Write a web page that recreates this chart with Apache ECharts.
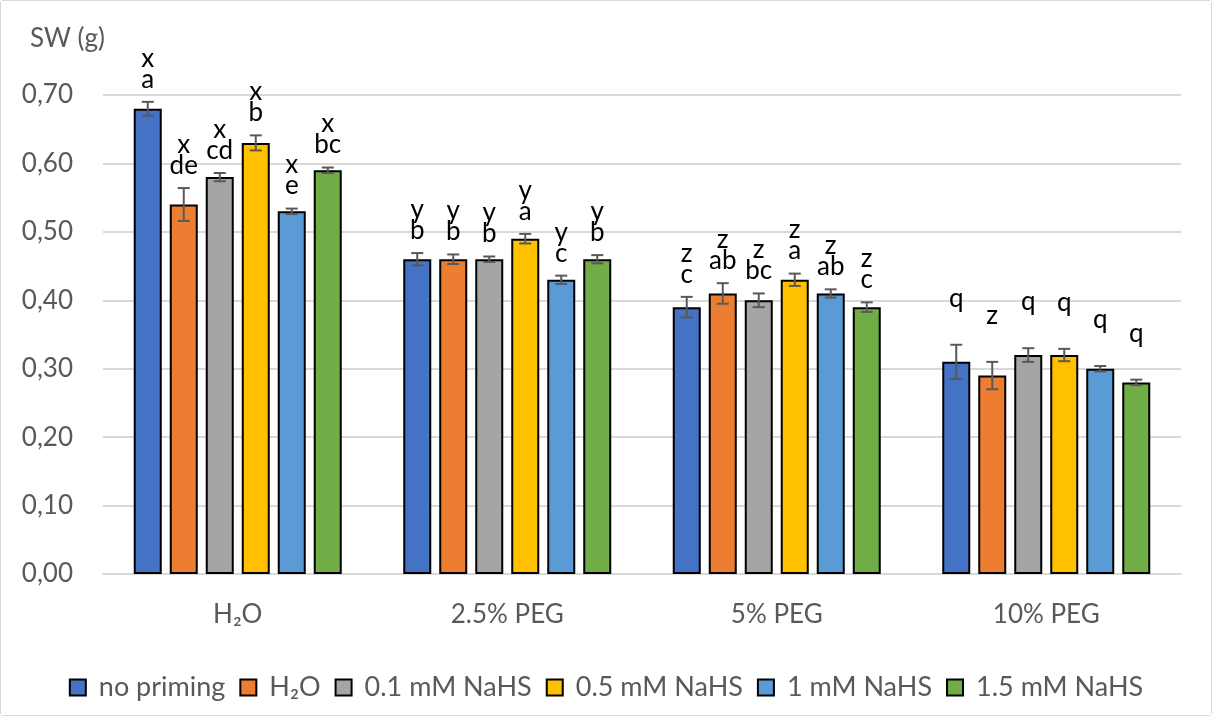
<!DOCTYPE html>
<html>
<head>
<meta charset="utf-8">
<script src="https://cdn.jsdelivr.net/npm/echarts@6/dist/echarts.min.js"></script>
<style>
  html, body { margin: 0; padding: 0; background: #fff; }
  #wrap { width: 1212px; height: 716px; box-sizing: border-box; border: 1px solid #d9d9d9; border-radius: 3px; }
  #chart { width: 100%; height: 100%; }
</style>
</head>
<body>
<div id="wrap"><div id="chart"></div></div>
<script>
// categories & series
const categories = ['H₂O', '2.5% PEG', '5% PEG', '10% PEG'];
const seriesNames = ['no priming', 'H₂O', '0.1 mM NaHS', '0.5 mM NaHS', '1 mM NaHS', '1.5 mM NaHS'];
const colors = ['#4472C4', '#ED7D31', '#A5A5A5', '#FFC000', '#5B9BD5', '#70AD47'];

// SW (g) means
const noPriming = [0.68, 0.46, 0.39, 0.31];
const h2o       = [0.54, 0.46, 0.41, 0.29];
const nahs01    = [0.58, 0.46, 0.40, 0.32];
const nahs05    = [0.63, 0.49, 0.43, 0.32];
const nahs1     = [0.53, 0.43, 0.41, 0.30];
const nahs15    = [0.59, 0.46, 0.39, 0.28];

// error bars (+/-)
const errNoPriming = [0.010, 0.009, 0.015, 0.025];
const errH2o       = [0.024, 0.007, 0.015, 0.020];
const errNahs01    = [0.006, 0.004, 0.010, 0.010];
const errNahs05    = [0.011, 0.007, 0.009, 0.009];
const errNahs1     = [0.004, 0.006, 0.006, 0.004];
const errNahs15    = [0.004, 0.006, 0.007, 0.004];

// significance letters: upper row (between treatments) / lower row (within treatment)
const upperNoPriming = ['x', 'y', 'z', 'q'];
const upperH2o       = ['x', 'y', 'z', 'z'];
const upperNahs01    = ['x', 'y', 'z', 'q'];
const upperNahs05    = ['x', 'y', 'z', 'q'];
const upperNahs1     = ['x', 'y', 'z', 'q'];
const upperNahs15    = ['x', 'y', 'z', 'q'];
const lowerNoPriming = ['a', 'b', 'c', ''];
const lowerH2o       = ['de', 'b', 'ab', ''];
const lowerNahs01    = ['cd', 'b', 'bc', ''];
const lowerNahs05    = ['b', 'a', 'a', ''];
const lowerNahs1     = ['e', 'c', 'ab', ''];
const lowerNahs15    = ['bc', 'b', 'c', ''];

const yTicks = [0, 0.1, 0.2, 0.3, 0.4, 0.5, 0.6, 0.7];

const values = [noPriming, h2o, nahs01, nahs05, nahs1, nahs15];
const errors = [errNoPriming, errH2o, errNahs01, errNahs05, errNahs1, errNahs15];
const uppers = [upperNoPriming, upperH2o, upperNahs01, upperNahs05, upperNahs1, upperNahs15];
const lowers = [lowerNoPriming, lowerH2o, lowerNahs01, lowerNahs05, lowerNahs1, lowerNahs15];

const FONT = 'Lato, "Open Sans", sans-serif';
const BAR_W = 28;
const PITCH = 36;

let chart = echarts.init(document.getElementById('chart'));

let barSeries = seriesNames.map(function (name, si) {
    return {
        name: name,
        type: 'bar',
        data: values[si],
        barWidth: BAR_W,
        barGap: ((PITCH - BAR_W) / BAR_W * 100).toFixed(2) + '%',
        itemStyle: { color: colors[si], borderColor: '#000', borderWidth: 2 },
        emphasis: { disabled: true }
    };
});

// error bars + letters in one custom series
let errData = [];
values.forEach(function (arr, si) {
    arr.forEach(function (v, ci) {
        errData.push([ci, v, errors[si][ci], si]);
    });
});

function renderErr(params, api) {
    let ci = api.value(0), v = api.value(1), e = api.value(2), si = api.value(3);
    let off = (si - 2.5) * PITCH;
    let top = api.coord([ci, v + e]);
    let bot = api.coord([ci, v - e]);
    let x = top[0] + off;
    let st = { stroke: '#595959', lineWidth: 2 };
    let up = uppers[si][ci], low = lowers[si][ci];
    let txt = up + '\n' + (low || ' ');
    return {
        type: 'group',
        children: [
            { type: 'line', shape: { x1: x, y1: top[1], x2: x, y2: bot[1] }, style: st },
            { type: 'line', shape: { x1: x - 6, y1: top[1], x2: x + 6, y2: top[1] }, style: st },
            { type: 'line', shape: { x1: x - 6, y1: bot[1], x2: x + 6, y2: bot[1] }, style: st },
            {
                type: 'text',
                style: {
                    text: txt, x: x, y: top[1] - (low ? 12 : 15),
                    align: 'center', verticalAlign: 'bottom',
                    font: '26px ' + FONT, lineHeight: 21, fill: '#000'
                }
            }
        ]
    };
}

let options = {
    animation: false,
    backgroundColor: '#fff',
    title: {
        text: 'SW (g)',
        left: 24, top: 20,
        textStyle: { fontFamily: FONT, fontSize: 26, fontWeight: 'normal', color: '#595959' }
    },
    legend: {
        data: seriesNames,
        bottom: 9,
        left: 'center',
        itemWidth: 16,
        itemHeight: 16,
        itemGap: 14,
        icon: 'rect',
        itemStyle: { borderColor: '#000', borderWidth: 2 },
        textStyle: { fontFamily: FONT, fontSize: 27, color: '#595959', padding: [0, 0, 0, 8] }
    },
    grid: { left: 102, right: 30, top: 94, bottom: 141 },
    xAxis: {
        type: 'category',
        data: categories,
        axisLine: { lineStyle: { color: '#d9d9d9', width: 2 } },
        axisTick: { show: false },
        axisLabel: { margin: 28, fontFamily: FONT, fontSize: 26, color: '#595959' }
    },
    yAxis: {
        type: 'value',
        min: 0, max: 0.7, interval: 0.1,
        axisLine: { show: false },
        axisTick: { show: false },
        axisLabel: {
            margin: 30, fontFamily: FONT, fontSize: 26, color: '#595959',
            formatter: function (v) { return v.toFixed(2).replace('.', ','); }
        },
        splitLine: { lineStyle: { color: '#d9d9d9', width: 2 } }
    },
    series: barSeries.concat([{
        type: 'custom',
        name: 'err',
        renderItem: renderErr,
        data: errData,
        z: 5,
        silent: true
    }])
};
chart.setOption(options);
window.addEventListener('resize', function () { chart.resize(); }, false);
</script>
</body>
</html>
